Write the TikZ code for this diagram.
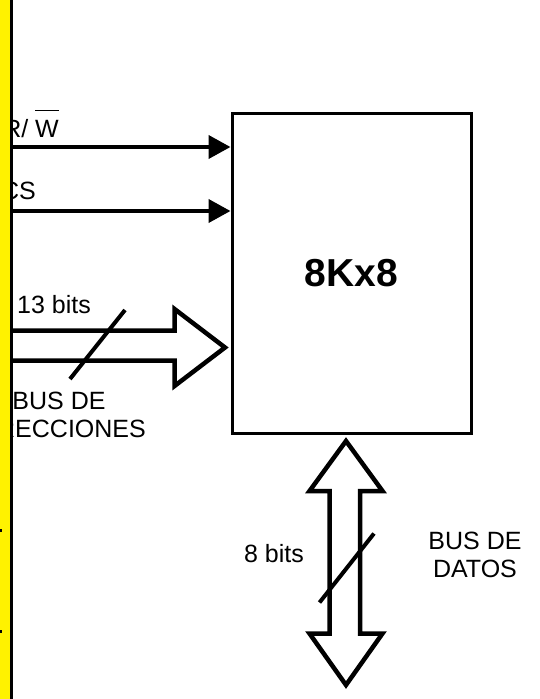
\documentclass[tikz,border=0pt]{standalone}
\usepackage{fontspec}
\setmainfont{Liberation Sans}
\usetikzlibrary{arrows.meta}
\begin{document}
\begin{tikzpicture}[x=1pt,y=-1pt,
  lbl/.style={inner sep=0pt, font=\fontsize{25}{28}\selectfont},
  busline/.style={line width=4.5pt, line join=miter, miter limit=10},
  sig/.style={line width=4pt, -{Triangle[length=22pt,width=23pt]}},
  slashline/.style={line width=4pt},
]
\useasboundingbox (0,0) rectangle (540,699);
\fill[white] (0,0) rectangle (540,699);
% memory block
\node[draw, line width=3pt, minimum width=239pt, minimum height=320pt, inner sep=0pt,
      font=\fontsize{39}{47}\selectfont\bfseries] (mem) at (351.5,273) {8Kx8};
% control signals
\node[lbl, anchor=base east] (rw) at (59,137) {R/ $\overline{\mbox{W}\rule{0pt}{25pt}}$};
\node[lbl, anchor=base east] (cs) at (36,199) {CS};
\coordinate (rwL) at (12,147);
\coordinate (csL) at (12,211);
\draw[sig] (rwL) -- (rwL -| mem.west);
\draw[sig] (csL) -- (csL -| mem.west);
% address bus
\coordinate (abA) at (12,330.5);
\coordinate (abB) at (12,360.5);
\coordinate (abTip) at (225,347.5);
\draw[busline] (abA) -- (174.5,330.5) -- (174.5,309) -- (abTip) -- (174.5,386) -- (174.5,360.5) -- (abB);
\coordinate (as1) at (70,379);
\coordinate (as2) at (125,310);
\draw[slashline] (as1) -- (as2);
\node[lbl, anchor=base west] (ab13) at (17,313) {13 bits};
\node[lbl, align=center] (abname) at (59,415) {BUS DE\\DIRECCIONES};
% data bus
\coordinate (dbTop) at (346,441);
\coordinate (dbBot) at (346,685);
\draw[busline] (dbTop) -- (309.5,491) -- (329.5,491) -- (329.5,633.5) -- (309.5,633.5) -- (dbBot)
  -- (382.5,633.5) -- (360,633.5) -- (360,491) -- (382.5,491) -- cycle;
\coordinate (ds1) at (319.5,602.5);
\coordinate (ds2) at (374,533.5);
\draw[slashline] (ds1) -- (ds2);
\node[lbl, anchor=base] (db8) at (274,562) {8 bits};
\node[lbl, align=center] (dbname) at (475,554.5) {BUS DE\\DATOS};
% left strip
\fill[yellow] (0,0) rectangle (10,699);
\fill[black] (10,0) rectangle (12.5,699);
\fill[black] (0,528.5) rectangle (1.8,531.5);
\fill[black] (0,630) rectangle (1.8,633);
\end{tikzpicture}
\end{document}
